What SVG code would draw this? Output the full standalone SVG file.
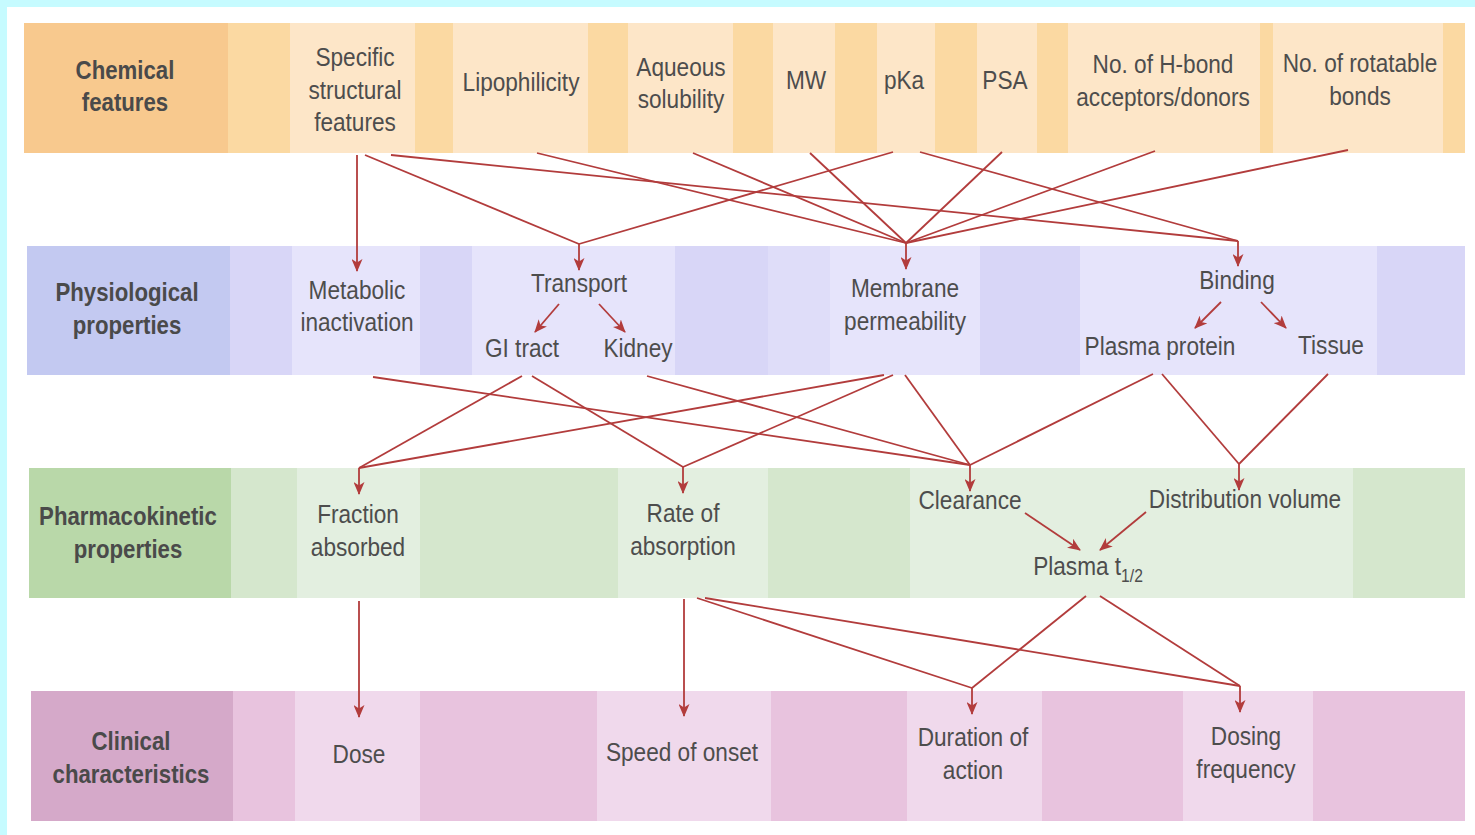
<svg xmlns="http://www.w3.org/2000/svg" width="1475" height="835" viewBox="0 0 1475 835">
<style>
.t{font-family:"Liberation Sans",Arial,sans-serif;font-size:26px;fill:#4d4d4d;text-anchor:middle}
.b{font-family:"Liberation Sans",Arial,sans-serif;font-size:26px;font-weight:bold;fill:#4a4a4a;text-anchor:middle}
.c line{stroke:#b23c3c;stroke-width:1.8;fill:none}
.a{marker-end:url(#ah)}
</style>
<defs>
<marker id="ah" markerUnits="userSpaceOnUse" markerWidth="13" markerHeight="11" refX="12" refY="5.5" orient="auto">
<path d="M0,0 L13,5.5 L0,11 L3.5,5.5 z" fill="#b23c3c"/>
</marker>
</defs>
<rect x="0" y="0" width="1475" height="835" fill="#c6fbff"/>
<rect x="7" y="7" width="1468" height="828" fill="#ffffff"/>

<g id="row-chemical">
<rect x="24" y="23" width="1441" height="130" fill="#fde6c8"/>
<rect x="24" y="23" width="204" height="130" fill="#f8c98e"/>
<g fill="#fbd9a2">
<rect x="228" y="23" width="62" height="130"/>
<rect x="415" y="23" width="38" height="130"/>
<rect x="588" y="23" width="40" height="130"/>
<rect x="733" y="23" width="40" height="130"/>
<rect x="835" y="23" width="42" height="130"/>
<rect x="935" y="23" width="42" height="130"/>
<rect x="1037" y="23" width="31" height="130"/>
<rect x="1260" y="23" width="13" height="130"/>
<rect x="1443" y="23" width="22" height="130"/>
</g>
</g>
<g id="n-chemical-label"><text class="b" transform="translate(125 79) scale(0.855 1)">Chemical</text><text class="b" transform="translate(125 111) scale(0.855 1)">features</text></g>
<g id="n-specific"><text class="t" transform="translate(355 66) scale(0.87 1)">Specific</text><text class="t" transform="translate(355 99) scale(0.87 1)">structural</text><text class="t" transform="translate(355 131) scale(0.87 1)">features</text></g>
<g id="n-lipophilicity"><text class="t" transform="translate(521 91) scale(0.87 1)">Lipophilicity</text></g>
<g id="n-aqueous"><text class="t" transform="translate(681 76) scale(0.87 1)">Aqueous</text><text class="t" transform="translate(681 108) scale(0.87 1)">solubility</text></g>
<g id="n-mw"><text class="t" transform="translate(806 89) scale(0.87 1)">MW</text></g>
<g id="n-pka"><text class="t" transform="translate(904 89) scale(0.87 1)">pKa</text></g>
<g id="n-psa"><text class="t" transform="translate(1005 89) scale(0.87 1)">PSA</text></g>
<g id="n-hbond"><text class="t" transform="translate(1163 73) scale(0.87 1)">No. of H-bond</text><text class="t" transform="translate(1163 106) scale(0.87 1)">acceptors/donors</text></g>
<g id="n-rotatable"><text class="t" transform="translate(1360 72) scale(0.87 1)">No. of rotatable</text><text class="t" transform="translate(1360 105) scale(0.87 1)">bonds</text></g>

<g id="row-physiological">
<rect x="27" y="246" width="1438" height="129" fill="#e6e4fb"/>
<rect x="27" y="246" width="203" height="129" fill="#c3c9f1"/>
<g fill="#d8d6f7">
<rect x="230" y="246" width="62" height="129"/>
<rect x="420" y="246" width="52" height="129"/>
<rect x="675" y="246" width="93" height="129"/>
<rect x="980" y="246" width="100" height="129"/>
<rect x="1377" y="246" width="88" height="129"/>
</g>
<rect x="768" y="246" width="62" height="129" fill="#dfddf9"/>
</g>
<g id="n-phys-label"><text class="b" transform="translate(127 301) scale(0.855 1)">Physiological</text><text class="b" transform="translate(127 334) scale(0.855 1)">properties</text></g>
<g id="n-metabolic"><text class="t" transform="translate(357 299) scale(0.87 1)">Metabolic</text><text class="t" transform="translate(357 331) scale(0.87 1)">inactivation</text></g>
<g id="n-transport"><text class="t" transform="translate(579 292) scale(0.87 1)">Transport</text></g>
<g id="n-gi"><text class="t" transform="translate(522 357) scale(0.87 1)">GI tract</text></g>
<g id="n-kidney"><text class="t" transform="translate(638 357) scale(0.87 1)">Kidney</text></g>
<g id="n-membrane"><text class="t" transform="translate(905 297) scale(0.87 1)">Membrane</text><text class="t" transform="translate(905 330) scale(0.87 1)">permeability</text></g>
<g id="n-binding"><text class="t" transform="translate(1237 289) scale(0.87 1)">Binding</text></g>
<g id="n-plasmaprotein"><text class="t" transform="translate(1160 355) scale(0.87 1)">Plasma protein</text></g>
<g id="n-tissue"><text class="t" transform="translate(1331 354) scale(0.87 1)">Tissue</text></g>

<g id="row-pharmacokinetic">
<rect x="29" y="468" width="1436" height="130" fill="#e3efe0"/>
<rect x="29" y="468" width="202" height="130" fill="#b9d8a9"/>
<g fill="#d5e7cd">
<rect x="231" y="468" width="66" height="130"/>
<rect x="420" y="468" width="198" height="130"/>
<rect x="768" y="468" width="142" height="130"/>
<rect x="1353" y="468" width="112" height="130"/>
</g>
</g>
<g id="n-pk-label"><text class="b" transform="translate(128 525) scale(0.855 1)">Pharmacokinetic</text><text class="b" transform="translate(128 558) scale(0.855 1)">properties</text></g>
<g id="n-fraction"><text class="t" transform="translate(358 523) scale(0.87 1)">Fraction</text><text class="t" transform="translate(358 556) scale(0.87 1)">absorbed</text></g>
<g id="n-rate"><text class="t" transform="translate(683 522) scale(0.87 1)">Rate of</text><text class="t" transform="translate(683 555) scale(0.87 1)">absorption</text></g>
<g id="n-clearance"><text class="t" transform="translate(970 509) scale(0.87 1)">Clearance</text></g>
<g id="n-distribution"><text class="t" transform="translate(1245 508) scale(0.87 1)">Distribution volume</text></g>
<g id="n-halflife"><text class="t" transform="translate(1088 575) scale(0.87 1)">Plasma t<tspan font-size="18" dy="7">1/2</tspan></text></g>

<g id="row-clinical">
<rect x="31" y="691" width="1434" height="130" fill="#f0d9ec"/>
<rect x="31" y="691" width="202" height="130" fill="#d5a9c9"/>
<g fill="#e8c3de">
<rect x="233" y="691" width="62" height="130"/>
<rect x="420" y="691" width="177" height="130"/>
<rect x="771" y="691" width="136" height="130"/>
<rect x="1042" y="691" width="141" height="130"/>
<rect x="1313" y="691" width="152" height="130"/>
</g>
</g>
<g id="n-clin-label"><text class="b" transform="translate(131 750) scale(0.855 1)">Clinical</text><text class="b" transform="translate(131 783) scale(0.855 1)">characteristics</text></g>
<g id="n-dose"><text class="t" transform="translate(359 763) scale(0.87 1)">Dose</text></g>
<g id="n-speed"><text class="t" transform="translate(682 761) scale(0.87 1)">Speed of onset</text></g>
<g id="n-duration"><text class="t" transform="translate(973 746) scale(0.87 1)">Duration of</text><text class="t" transform="translate(973 779) scale(0.87 1)">action</text></g>
<g id="n-dosing"><text class="t" transform="translate(1246 745) scale(0.87 1)">Dosing</text><text class="t" transform="translate(1246 778) scale(0.87 1)">frequency</text></g>

<g id="connectors" class="c">
<line class="a" x1="357" y1="155" x2="357" y2="271"/>
<line x1="365" y1="155" x2="579" y2="244"/>
<line x1="391" y1="155" x2="1238" y2="241"/>
<line x1="537" y1="153" x2="906" y2="243"/>
<line x1="693" y1="153" x2="906" y2="243"/>
<line x1="810" y1="153" x2="906" y2="243"/>
<line x1="893" y1="152" x2="579" y2="244"/>
<line x1="920" y1="152" x2="1238" y2="241"/>
<line x1="1002" y1="152" x2="906" y2="243"/>
<line x1="1155" y1="151" x2="906" y2="243"/>
<line x1="1348" y1="150" x2="906" y2="243"/>
<line class="a" x1="579" y1="244" x2="579" y2="270"/>
<line class="a" x1="906" y1="243" x2="906" y2="269"/>
<line class="a" x1="1238" y1="241" x2="1238" y2="266"/>
<line class="a" x1="559" y1="304" x2="535" y2="332"/>
<line class="a" x1="599" y1="304" x2="625" y2="332"/>
<line class="a" x1="1221" y1="302" x2="1195" y2="328"/>
<line class="a" x1="1261" y1="302" x2="1286" y2="328"/>
<line x1="373" y1="377" x2="970" y2="465"/>
<line x1="522" y1="376" x2="359" y2="468"/>
<line x1="532" y1="376" x2="683" y2="467"/>
<line x1="647" y1="376" x2="970" y2="465"/>
<line x1="884" y1="375" x2="359" y2="468"/>
<line x1="893" y1="375" x2="683" y2="467"/>
<line x1="905" y1="375" x2="970" y2="465"/>
<line x1="1153" y1="374" x2="970" y2="465"/>
<line x1="1162" y1="374" x2="1239" y2="464"/>
<line x1="1328" y1="374" x2="1239" y2="464"/>
<line class="a" x1="359" y1="468" x2="359" y2="494"/>
<line class="a" x1="683" y1="467" x2="683" y2="493"/>
<line class="a" x1="970" y1="465" x2="970" y2="491"/>
<line class="a" x1="1239" y1="464" x2="1239" y2="490"/>
<line class="a" x1="1025" y1="513" x2="1080" y2="550"/>
<line class="a" x1="1146" y1="512" x2="1100" y2="550"/>
<line class="a" x1="359" y1="601" x2="359" y2="717"/>
<line class="a" x1="684" y1="599" x2="684" y2="716"/>
<line x1="697" y1="598" x2="972" y2="688"/>
<line x1="705" y1="598" x2="1240" y2="686"/>
<line x1="1086" y1="596" x2="972" y2="688"/>
<line x1="1100" y1="596" x2="1240" y2="686"/>
<line class="a" x1="972" y1="688" x2="972" y2="714"/>
<line class="a" x1="1240" y1="686" x2="1240" y2="712"/>
</g>
</svg>
